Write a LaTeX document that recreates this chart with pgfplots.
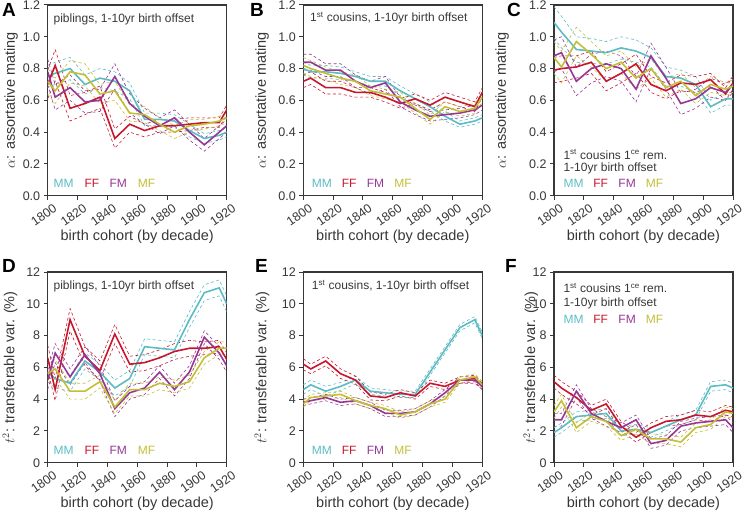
\documentclass[border=0pt]{standalone}
\usepackage{fontspec}
\setmainfont{Liberation Sans}
\usepackage{pgfplots}
\usepackage{pgfplotstable}
\pgfplotsset{compat=1.18}

\definecolor{cMM}{RGB}{92,188,196}
\definecolor{cFF}{RGB}{200,22,45}
\definecolor{cFM}{RGB}{150,55,150}
\definecolor{cMF}{RGB}{196,190,55}
\definecolor{frm}{RGB}{55,55,55}

% x, value and half-width of the dashed band for each series
\pgfplotstableread{
x    MM   MMe  FF   FFe  FM   FMe  MF   MFe
1800 0.75 0.07 0.70 0.09 0.78 0.08 0.72 0.08
1805 0.77 0.07 0.82 0.10 0.62 0.08 0.66 0.08
1815 0.80 0.07 0.55 0.08 0.68 0.08 0.78 0.07
1825 0.70 0.06 0.58 0.07 0.59 0.07 0.76 0.07
1835 0.74 0.06 0.62 0.07 0.60 0.07 0.64 0.06
1845 0.72 0.06 0.36 0.06 0.75 0.08 0.66 0.06
1855 0.66 0.05 0.45 0.05 0.58 0.06 0.52 0.05
1865 0.48 0.04 0.41 0.04 0.50 0.05 0.51 0.05
1875 0.48 0.04 0.44 0.04 0.44 0.05 0.45 0.04
1885 0.47 0.04 0.44 0.04 0.49 0.05 0.40 0.04
1895 0.41 0.04 0.45 0.04 0.40 0.05 0.44 0.04
1905 0.36 0.03 0.46 0.03 0.32 0.04 0.45 0.03
1915 0.38 0.03 0.46 0.03 0.40 0.04 0.47 0.03
1920 0.40 0.03 0.54 0.03 0.44 0.04 0.49 0.03
}\tabA
\pgfplotstableread{
x    MM   MMe  FF   FFe  FM   FMe  MF   MFe
1800 0.80 0.04 0.72 0.04 0.84 0.05 0.82 0.05
1805 0.78 0.04 0.74 0.04 0.84 0.05 0.80 0.05
1815 0.78 0.04 0.68 0.04 0.79 0.04 0.77 0.04
1825 0.77 0.04 0.68 0.04 0.79 0.04 0.74 0.04
1835 0.75 0.03 0.65 0.03 0.72 0.04 0.72 0.04
1845 0.72 0.03 0.65 0.03 0.68 0.04 0.66 0.03
1855 0.72 0.03 0.62 0.03 0.71 0.04 0.64 0.03
1865 0.66 0.03 0.58 0.03 0.59 0.03 0.62 0.03
1875 0.61 0.03 0.61 0.03 0.54 0.03 0.55 0.03
1885 0.56 0.03 0.57 0.03 0.50 0.03 0.48 0.03
1895 0.50 0.03 0.62 0.03 0.51 0.03 0.56 0.03
1905 0.45 0.02 0.59 0.03 0.52 0.03 0.53 0.03
1915 0.47 0.02 0.56 0.03 0.54 0.03 0.55 0.03
1920 0.49 0.02 0.65 0.03 0.57 0.03 0.62 0.03
}\tabB
\pgfplotstableread{
x    MM   MMe  FF   FFe  FM   FMe  MF   MFe
1800 1.09 0.10 0.79 0.08 0.88 0.10 0.87 0.10
1805 1.03 0.10 0.80 0.08 0.90 0.10 0.81 0.10
1815 0.92 0.08 0.81 0.07 0.72 0.09 0.97 0.09
1825 0.91 0.08 0.84 0.07 0.80 0.09 0.89 0.08
1835 0.90 0.07 0.72 0.06 0.83 0.08 0.80 0.08
1845 0.93 0.07 0.77 0.06 0.80 0.08 0.84 0.07
1855 0.91 0.07 0.83 0.06 0.67 0.08 0.74 0.07
1865 0.87 0.06 0.70 0.05 0.88 0.08 0.80 0.06
1875 0.75 0.06 0.66 0.05 0.74 0.07 0.68 0.06
1885 0.74 0.05 0.71 0.05 0.58 0.07 0.72 0.05
1895 0.70 0.05 0.70 0.05 0.61 0.06 0.63 0.05
1905 0.56 0.04 0.73 0.04 0.68 0.06 0.70 0.05
1915 0.61 0.04 0.64 0.04 0.65 0.05 0.67 0.04
1920 0.61 0.04 0.71 0.04 0.70 0.05 0.69 0.04
}\tabC
\pgfplotstableread{
x    MM   MMe  FF   FFe  FM   FMe  MF   MFe
1800 5.7  0.6  6.6  0.8  5.2  0.6  5.6  0.6
1805 5.3  0.6  4.6  0.7  6.9  0.6  5.9  0.6
1815 5.0  0.5  9.0  0.7  5.4  0.5  4.5  0.5
1825 6.4  0.5  6.7  0.6  6.8  0.5  4.5  0.5
1835 5.7  0.5  5.8  0.6  5.6  0.5  5.1  0.4
1845 4.7  0.5  8.1  0.6  3.4  0.5  3.5  0.4
1855 5.3  0.5  6.2  0.5  4.4  0.4  4.6  0.4
1865 7.3  0.5  6.3  0.5  4.7  0.4  4.6  0.4
1875 7.2  0.5  6.6  0.5  5.7  0.4  5.0  0.4
1885 7.1  0.5  7.0  0.5  4.6  0.4  4.8  0.4
1895 9.0  0.5  7.2  0.5  5.7  0.4  5.1  0.4
1905 10.7 0.5  7.2  0.4  7.9  0.4  6.6  0.4
1915 11.0 0.5  7.3  0.4  6.9  0.4  7.2  0.4
1920 10.0 0.5  6.5  0.4  6.1  0.4  7.2  0.4
}\tabD
\pgfplotstableread{
x    MM   MMe  FF   FFe  FM   FMe  MF   MFe
1800 4.6  0.3  6.2  0.35 3.8  0.2  3.7  0.2
1805 4.9  0.3  5.9  0.3  3.9  0.2  4.1  0.2
1815 4.5  0.3  6.4  0.3  4.1  0.2  4.2  0.2
1825 4.8  0.25 5.6  0.3  3.8  0.2  4.3  0.2
1835 5.2  0.25 5.2  0.25 3.9  0.2  3.9  0.2
1845 4.5  0.2  4.2  0.25 3.6  0.2  3.6  0.2
1855 4.4  0.2  4.1  0.2  3.1  0.2  3.4  0.2
1865 4.3  0.2  4.4  0.2  3.1  0.2  3.0  0.2
1875 4.3  0.2  4.2  0.2  3.2  0.2  3.2  0.2
1885 5.7  0.2  5.0  0.2  3.7  0.2  3.7  0.2
1895 7.1  0.2  4.8  0.2  4.4  0.2  4.0  0.2
1905 8.5  0.2  5.2  0.2  5.2  0.2  5.2  0.2
1915 9.0  0.2  5.3  0.2  5.2  0.2  5.4  0.2
1920 8.0  0.2  4.8  0.2  4.8  0.2  4.9  0.2
}\tabE
\pgfplotstableread{
x    MM   MMe  FF   FFe  FM   FMe  MF   MFe
1800 1.9  0.3  5.1  0.4  2.7  0.4  3.2  0.4
1805 2.2  0.3  4.7  0.4  2.7  0.4  3.9  0.4
1815 2.9  0.3  4.1  0.4  4.5  0.4  2.2  0.3
1825 3.0  0.3  3.3  0.3  3.1  0.3  2.9  0.3
1835 3.1  0.3  3.7  0.3  2.6  0.3  2.6  0.3
1845 2.0  0.3  2.3  0.3  2.2  0.3  1.7  0.3
1855 2.1  0.3  1.6  0.3  2.7  0.3  2.1  0.3
1865 1.9  0.3  2.2  0.3  1.2  0.3  1.5  0.3
1875 2.3  0.3  2.6  0.3  1.4  0.3  1.5  0.3
1885 2.7  0.3  2.7  0.3  2.3  0.3  1.3  0.3
1895 3.0  0.3  3.0  0.3  2.5  0.3  2.2  0.3
1905 4.8  0.3  2.9  0.3  2.6  0.3  2.4  0.3
1915 4.9  0.3  3.3  0.3  2.7  0.3  3.2  0.3
1920 4.7  0.3  3.2  0.3  2.2  0.3  3.1  0.3
}\tabF

\pgfplotsset{
  panel/.style={
    scale only axis, width=179pt, height=190.7pt,
    xmin=1800, xmax=1920, xtick={1800,1820,...,1920},
    tick pos=left, tick align=outside,
    axis line style={frm, line width=1.3pt},
    major tick style={frm, line width=1pt}, major tick length=4pt,
    ticklabel style={font=\fontsize{12.5}{14}\selectfont, text=frm},
    /pgf/number format/assume math mode=true,
    x tick label style={xshift=5pt, yshift=-3pt, rotate=35, anchor=north east,
      inner sep=0pt, /pgf/number format/1000 sep={}},
    label style={font=\fontsize{14.5}{17}\selectfont, text=frm},
    xlabel={birth cohort (by decade)},
    xlabel style={at={(axis description cs:0.5,-0.215)}, anchor=center},
  },
  toprow/.style={panel, ymin=0, ymax=1.2, ytick={0,0.2,0.4,0.6,0.8,1.0,1.2},
    y tick label style={/pgf/number format/.cd, fixed, fixed zerofill, precision=1},
    ylabel={$\alpha$: assortative mating}},
  botrow/.style={panel, ymin=0, ymax=12, ytick={0,2,4,6,8,10,12},
    ylabel={$t^2$: transferable var. (\%)}},
  band/.style={line width=0.6pt, dash pattern=on 3pt off 2.5pt},
  main/.style={line width=1.6pt},
}

\newcommand\bands[3]{%
  \addplot[#3, band] table[x=x, y expr=\thisrow{#2}+\thisrow{#2e}] {#1};
  \addplot[#3, band] table[x=x, y expr=\thisrow{#2}-\thisrow{#2e}] {#1};
}
\newcommand\allseries[1]{%
  \bands{#1}{MM}{cMM}\bands{#1}{FF}{cFF}\bands{#1}{FM}{cFM}\bands{#1}{MF}{cMF}
  \addplot[cMM, main] table[x=x, y=MM] {#1};
  \addplot[cFF, main] table[x=x, y=FF] {#1};
  \addplot[cFM, main] table[x=x, y=FM] {#1};
  \addplot[cMF, main] table[x=x, y=MF] {#1};
}
% legend words: y, then x of MM FF FM MF (axis fractions)
\newcommand\leg[5]{%
  \node[anchor=west, inner sep=0, text=cMM, font=\fontsize{12}{14}\selectfont] at (axis description cs:#2,#1) {MM};
  \node[anchor=west, inner sep=0, text=cFF, font=\fontsize{12}{14}\selectfont] at (axis description cs:#3,#1) {FF};
  \node[anchor=west, inner sep=0, text=cFM, font=\fontsize{12}{14}\selectfont] at (axis description cs:#4,#1) {FM};
  \node[anchor=west, inner sep=0, text=cMF, font=\fontsize{12}{14}\selectfont] at (axis description cs:#5,#1) {MF};
}
\newcommand\note[3]{%
  \node[anchor=west, inner sep=0, text=frm, font=\fontsize{12}{14}\selectfont] at (axis description cs:#1,#2) {#3};
}

\begin{document}
\begin{tikzpicture}
\useasboundingbox (0,0) rectangle (742pt,512pt);

\begin{axis}[toprow, at={(47.7pt,316.3pt)}, anchor=south west,
  ylabel style={at={(axis description cs:-0.205,0.5)}, anchor=center}]
  \allseries{\tabA}
  \note{0.032}{0.927}{piblings, 1-10yr birth offset}
  \leg{0.063}{0.032}{0.205}{0.345}{0.503}
\end{axis}

\begin{axis}[toprow, at={(303.3pt,316.3pt)}, anchor=south west,
  ylabel style={at={(axis description cs:-0.23,0.5)}, anchor=center}]
  \allseries{\tabB}
  \note{0.037}{0.93}{1\textsuperscript{st} cousins, 1-10yr birth offset}
  \leg{0.065}{0.047}{0.214}{0.354}{0.507}
\end{axis}

\begin{axis}[toprow, at={(554pt,316.3pt)}, anchor=south west,
  ylabel style={at={(axis description cs:-0.29,0.5)}, anchor=center}]
  \allseries{\tabC}
  \note{0.052}{0.217}{1\textsuperscript{st} cousins 1\textsuperscript{ce} rem.}
  \note{0.052}{0.142}{1-10yr birth offset}
  \leg{0.065}{0.052}{0.219}{0.359}{0.512}
\end{axis}

\begin{axis}[botrow, at={(47.7pt,49.3pt)}, anchor=south west,
  ylabel style={at={(axis description cs:-0.21,0.5)}, anchor=center}]
  \allseries{\tabD}
  \note{0.032}{0.925}{piblings, 1-10yr birth offset}
  \leg{0.065}{0.032}{0.205}{0.345}{0.503}
\end{axis}

\begin{axis}[botrow, at={(303.3pt,49.3pt)}, anchor=south west,
  ylabel style={at={(axis description cs:-0.23,0.5)}, anchor=center}]
  \allseries{\tabE}
  \note{0.047}{0.925}{1\textsuperscript{st} cousins, 1-10yr birth offset}
  \leg{0.065}{0.047}{0.214}{0.354}{0.507}
\end{axis}

\begin{axis}[botrow, at={(554pt,49.3pt)}, anchor=south west,
  ylabel style={at={(axis description cs:-0.13,0.5)}, anchor=center}]
  \allseries{\tabF}
  \note{0.052}{0.916}{1\textsuperscript{st} cousins 1\textsuperscript{ce} rem.}
  \note{0.052}{0.834}{1-10yr birth offset}
  \leg{0.750}{0.052}{0.219}{0.359}{0.512}
\end{axis}

\begin{scope}[font=\bfseries\fontsize{19}{19}\selectfont]
  \node[anchor=north west, inner sep=0] at (2pt,509pt) {A};
  \node[anchor=north west, inner sep=0] at (250pt,509pt) {B};
  \node[anchor=north west, inner sep=0] at (507pt,509pt) {C};
  \node[anchor=north west, inner sep=0] at (2pt,253pt) {D};
  \node[anchor=north west, inner sep=0] at (255pt,253pt) {E};
  \node[anchor=north west, inner sep=0] at (505pt,253pt) {F};
\end{scope}
\end{tikzpicture}
\end{document}
